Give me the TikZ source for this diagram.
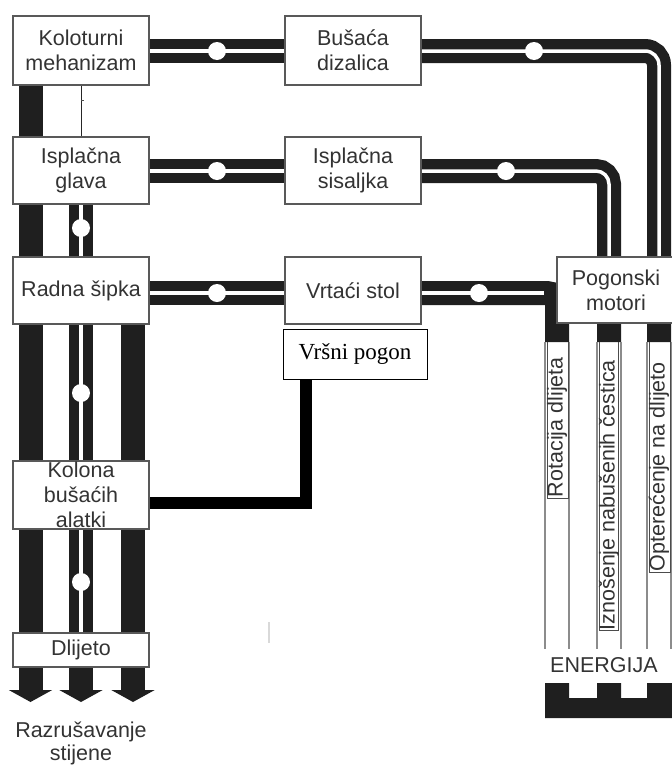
\documentclass[tikz,border=0pt]{standalone}
\usepackage{fontspec}
\setmainfont{Liberation Sans}
\newfontfamily\serifvr{Liberation Serif}
\usetikzlibrary{arrows.meta,calc}
\pgfdeclarelayer{bg}
\pgfsetlayers{bg,main}
\begin{document}
\begin{tikzpicture}[x=1pt,y=-1pt,
  box/.style={draw=black!65, line width=1.2pt, fill=white, inner sep=0pt, minimum width=136pt, align=center, text=black!80, font=\fontsize{21.5}{25}\selectfont},
  pipe/.style={line width=24pt, draw=black!88},
  core/.style={line width=3.5pt, draw=white},
  bar/.style={line width=24pt, draw=black!88, -{Triangle[width=43pt,length=12pt]}},
  dot/.style={circle, fill=white, minimum size=18pt, inner sep=0pt},
  lbl/.style={text=black!80, font=\fontsize{21.5}{25}\selectfont, inner sep=0pt, align=center},
  col/.style={draw=black!45, line width=1.3pt},
  frame/.style={draw=black!70, line width=0.8pt},
]
\useasboundingbox (0,0) rectangle (672,766);

% coordinates
\coordinate (p1) at (0,51);
\coordinate (p2) at (0,171);
\coordinate (p3) at (0,293);
\coordinate (r1) at (557,342);
\coordinate (r2) at (609,342);
\coordinate (r3) at (659,342);
\coordinate (a1) at (30.5,702);
\coordinate (a2) at (81,702);
\coordinate (a3) at (133,702);
\coordinate (vp) at (305.5,503);

% boxes
\node[box, minimum height=69pt] (kol) at (81,50.5) {Koloturni\\mehanizam};
\node[box, minimum height=69pt] (bus) at (353,50.5) {Bušaća\\dizalica};
\node[box, minimum height=67pt] (isg) at (81,170.5) {Isplačna\\glava};
\node[box, minimum height=67pt] (iss) at (353,170.5) {Isplačna\\sisaljka};
\node[box, minimum height=67pt] (rad) at (81,290.5) {Radna šipka};
\node[box, minimum height=67pt] (vrt) at (353,290.5) {Vrtaći stol};
\node[box, minimum width=118pt, minimum height=66pt] (pog) at (616,290) {\raisebox{2pt}{\parbox{110pt}{\centering Pogonski\\motori}}};
\node[box, draw=black, line width=1pt, minimum width=144pt, minimum height=50pt, font=\serifvr\fontsize{23}{26}\selectfont, text=black] (vrs) at (355,354) {\raisebox{-4pt}{Vršni pogon}};
\node[box, minimum height=68pt] (kolona) at (81,495) {Kolona\\bušaćih\\alatki};
\node[box, minimum height=34pt] (dli) at (81,650) {Dlijeto};

% junction dots
\node[dot] (d1) at ($(kol.east |- p1)!0.5!(bus.west |- p1)$) {};
\node[dot] (d2) at (534,51) {};
\node[dot] (d3) at ($(isg.east |- p2)!0.5!(iss.west |- p2)$) {};
\node[dot] (d4) at (506,171) {};
\node[dot] (d5) at ($(rad.east |- p3)!0.5!(vrt.west |- p3)$) {};
\node[dot] (d6) at (479,293) {};
\node[dot] (d7) at (81,228) {};
\node[dot] (d8) at (81,393) {};
\node[dot] (d9) at (81,582) {};

% columns below the motors
\foreach \x in {545,569,597,621,647,671} \draw[col] (\x,342) -- (\x,649);
\draw[frame] (547,342) -- (547,498) -- (568,498) -- (568,342);
\draw[frame] (599,342) -- (599,630) -- (618,630) -- (618,342);
\draw[frame] (649,342) -- (649,572) -- (670,572) -- (670,342);

\node[lbl, rotate=90, anchor=east] (t1) at (557,357) {Rotacija dlijeta};
\node[lbl, rotate=90, anchor=east] (t2) at (609,360) {Iznošenje nabušenih čestica};
\node[lbl, rotate=90, anchor=east] (t3) at (659,362) {Opterećenje na dlijeto};

\node[lbl] (ener) at (604,665) {ENERGIJA};
\fill[black!88] (545,718) -- (545,683) -- (569,683) -- (569,698) -- (597,698) -- (597,683) -- (621,683) -- (621,698) -- (647,698) -- (647,683) -- (672,683) -- (672,718) -- cycle;

\node[lbl, font=\fontsize{21.5}{23.5}\selectfont] (razr) at (81,743.5) {Razrušavanje\\stijene};

\draw[black!15, line width=1.5pt] (269,622) -- (269,643);

\begin{pgfonlayer}{bg}
  % top row
  \draw[pipe] (kol.east |- p1) -- (bus.west |- p1);
  \draw[core] (kol.east |- p1) -- (bus.west |- p1);
  \draw[pipe, rounded corners=14pt] (bus.east |- p1) -| (r3);
  \draw[core, rounded corners=14pt] (bus.east |- p1) -| (r3 |- pog.north);
  % second row
  \draw[pipe] (isg.east |- p2) -- (iss.west |- p2);
  \draw[core] (isg.east |- p2) -- (iss.west |- p2);
  \draw[pipe, rounded corners=13pt] (iss.east |- p2) -| (r2);
  \draw[core, rounded corners=13pt] (iss.east |- p2) -| (r2 |- pog.north);
  % third row
  \draw[pipe] (rad.east |- p3) -- (vrt.west |- p3);
  \draw[core] (rad.east |- p3) -- (vrt.west |- p3);
  \draw[pipe, rounded corners=10pt] (vrt.east |- p3) -| (r1);
  \draw[core] (vrt.east |- p3) -- ($(pog.west |- p3)+(-12,0)$);
  % vertical left pipes
  \draw[bar] (kol.south -| a1) -- (a1);
  \draw[bar] (isg.south -| a2) -- (a2);
  \draw[core] (isg.south -| a2) -- (dli.north -| a2);
  \draw[bar] (rad.south -| a3) -- (a3);
  \draw[line width=1pt, black!85] (kol.south -| a2) -- (isg.north -| a2);
  \draw[line width=0.8pt, black!70] (81,100) -- (84,100);
  % top drive
  \draw[line width=12pt, black, line join=miter] (vrs.south -| vp) -- (vp) -- (vp -| kolona.east);
\end{pgfonlayer}
\end{tikzpicture}
\end{document}
